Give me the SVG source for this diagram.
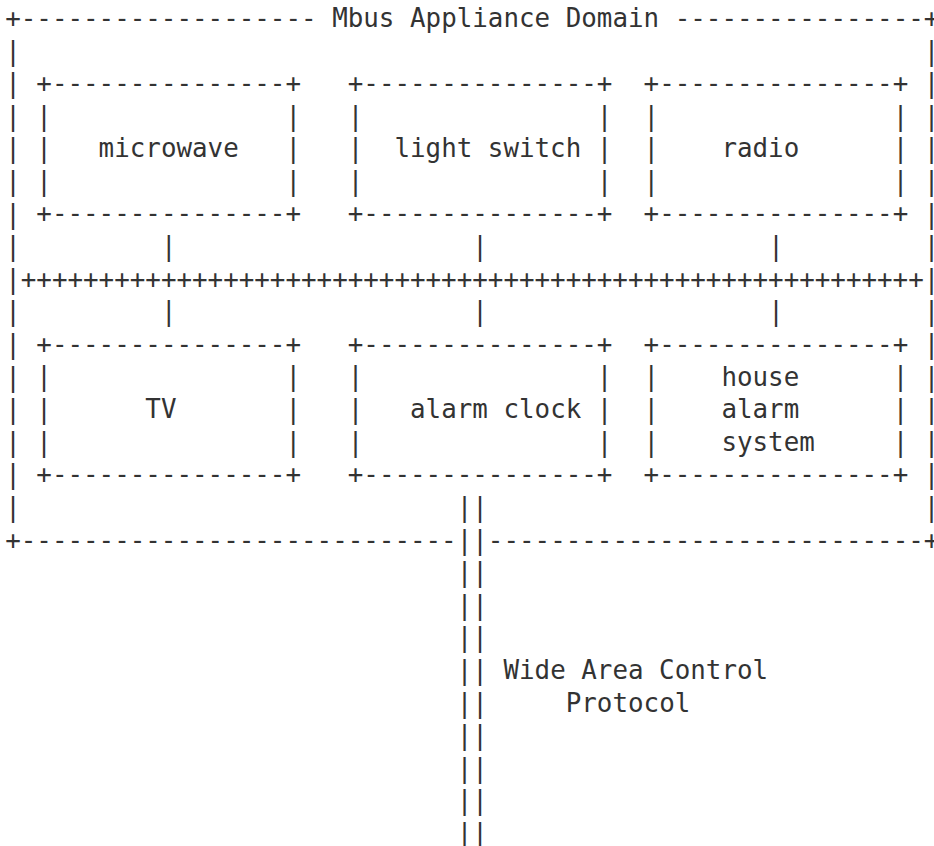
<svg xmlns="http://www.w3.org/2000/svg" xmlns:xlink="http://www.w3.org/1999/xlink" width="934" height="846" viewBox="0 0 934 846">
<style>
text{font-family:"DejaVu Sans Mono","Liberation Mono",monospace;font-size:25.86px;fill:#333;white-space:pre}
</style>
<defs>
<g id="boxframe">
<text x="0" y="0" xml:space="preserve">+---------------+</text>
<text x="0" y="32.6" xml:space="preserve">|               |</text>
<text x="0" y="65.2" xml:space="preserve">|               |</text>
<text x="0" y="97.8" xml:space="preserve">|               |</text>
<text x="0" y="130.4" xml:space="preserve">+---------------+</text>
</g>
<g id="vbar"><text x="0" y="0">|</text></g>
<g id="dbar"><text x="0" y="0">||</text></g>
</defs>
<rect width="934" height="846" fill="#fff"/>
<g id="domain">
<text x="5.2" y="26.9" xml:space="preserve">+-------------------</text>
<text x="332.17" y="26.9">Mbus Appliance Domain</text>
<text x="674.71" y="26.9" xml:space="preserve">----------------+</text>
<text x="5.2" y="548.5" xml:space="preserve">+----------------------------</text>
<text x="487.87" y="548.5" xml:space="preserve">----------------------------+</text>
<use xlink:href="#vbar" x="5.2" y="59.5"/><use xlink:href="#vbar" x="923.83" y="59.5"/>
<use xlink:href="#vbar" x="5.2" y="92.1"/><use xlink:href="#vbar" x="923.83" y="92.1"/>
<use xlink:href="#vbar" x="5.2" y="124.7"/><use xlink:href="#vbar" x="923.83" y="124.7"/>
<use xlink:href="#vbar" x="5.2" y="157.3"/><use xlink:href="#vbar" x="923.83" y="157.3"/>
<use xlink:href="#vbar" x="5.2" y="189.9"/><use xlink:href="#vbar" x="923.83" y="189.9"/>
<use xlink:href="#vbar" x="5.2" y="222.5"/><use xlink:href="#vbar" x="923.83" y="222.5"/>
<use xlink:href="#vbar" x="5.2" y="255.1"/><use xlink:href="#vbar" x="923.83" y="255.1"/>
<use xlink:href="#vbar" x="5.2" y="287.7"/><use xlink:href="#vbar" x="923.83" y="287.7"/>
<use xlink:href="#vbar" x="5.2" y="320.3"/><use xlink:href="#vbar" x="923.83" y="320.3"/>
<use xlink:href="#vbar" x="5.2" y="352.9"/><use xlink:href="#vbar" x="923.83" y="352.9"/>
<use xlink:href="#vbar" x="5.2" y="385.5"/><use xlink:href="#vbar" x="923.83" y="385.5"/>
<use xlink:href="#vbar" x="5.2" y="418.1"/><use xlink:href="#vbar" x="923.83" y="418.1"/>
<use xlink:href="#vbar" x="5.2" y="450.7"/><use xlink:href="#vbar" x="923.83" y="450.7"/>
<use xlink:href="#vbar" x="5.2" y="483.3"/><use xlink:href="#vbar" x="923.83" y="483.3"/>
<use xlink:href="#vbar" x="5.2" y="515.9"/><use xlink:href="#vbar" x="923.83" y="515.9"/>
</g>
<g id="microwave">
<use xlink:href="#boxframe" x="36.34" y="92.1"/>
<text x="98.62" y="157.3">microwave</text>
</g>
<g id="light-switch">
<use xlink:href="#boxframe" x="347.74" y="92.1"/>
<text x="394.45" y="157.3">light switch</text>
</g>
<g id="radio">
<use xlink:href="#boxframe" x="643.57" y="92.1"/>
<text x="721.42" y="157.3">radio</text>
</g>
<g id="tv">
<use xlink:href="#boxframe" x="36.34" y="352.9"/>
<text x="145.33" y="418.1">TV</text>
</g>
<g id="alarm-clock">
<use xlink:href="#boxframe" x="347.74" y="352.9"/>
<text x="410.02" y="418.1">alarm clock</text>
</g>
<g id="house-alarm-system">
<use xlink:href="#boxframe" x="643.57" y="352.9"/>
<text x="721.42" y="385.5">house</text>
<text x="721.42" y="418.1">alarm</text>
<text x="721.42" y="450.7">system</text>
</g>
<g id="connectors">
<use xlink:href="#vbar" x="160.9" y="255.1"/>
<use xlink:href="#vbar" x="472.3" y="255.1"/>
<use xlink:href="#vbar" x="768.13" y="255.1"/>
<text x="20.77" y="287.7">++++++++++++++++++++++++++++++++++++++++++++++++++++++++++</text>
<use xlink:href="#vbar" x="160.9" y="320.3"/>
<use xlink:href="#vbar" x="472.3" y="320.3"/>
<use xlink:href="#vbar" x="768.13" y="320.3"/>
<use xlink:href="#dbar" x="456.73" y="515.9"/>
<use xlink:href="#dbar" x="456.73" y="548.5"/>
<use xlink:href="#dbar" x="456.73" y="581.1"/>
<use xlink:href="#dbar" x="456.73" y="613.7"/>
<use xlink:href="#dbar" x="456.73" y="646.3"/>
<use xlink:href="#dbar" x="456.73" y="678.9"/>
<use xlink:href="#dbar" x="456.73" y="711.5"/>
<use xlink:href="#dbar" x="456.73" y="744.1"/>
<use xlink:href="#dbar" x="456.73" y="776.7"/>
<use xlink:href="#dbar" x="456.73" y="809.3"/>
<use xlink:href="#dbar" x="456.73" y="841.9"/>
<text x="503.44" y="678.9">Wide Area Control</text>
<text x="565.72" y="711.5">Protocol</text>
</g>
</svg>
